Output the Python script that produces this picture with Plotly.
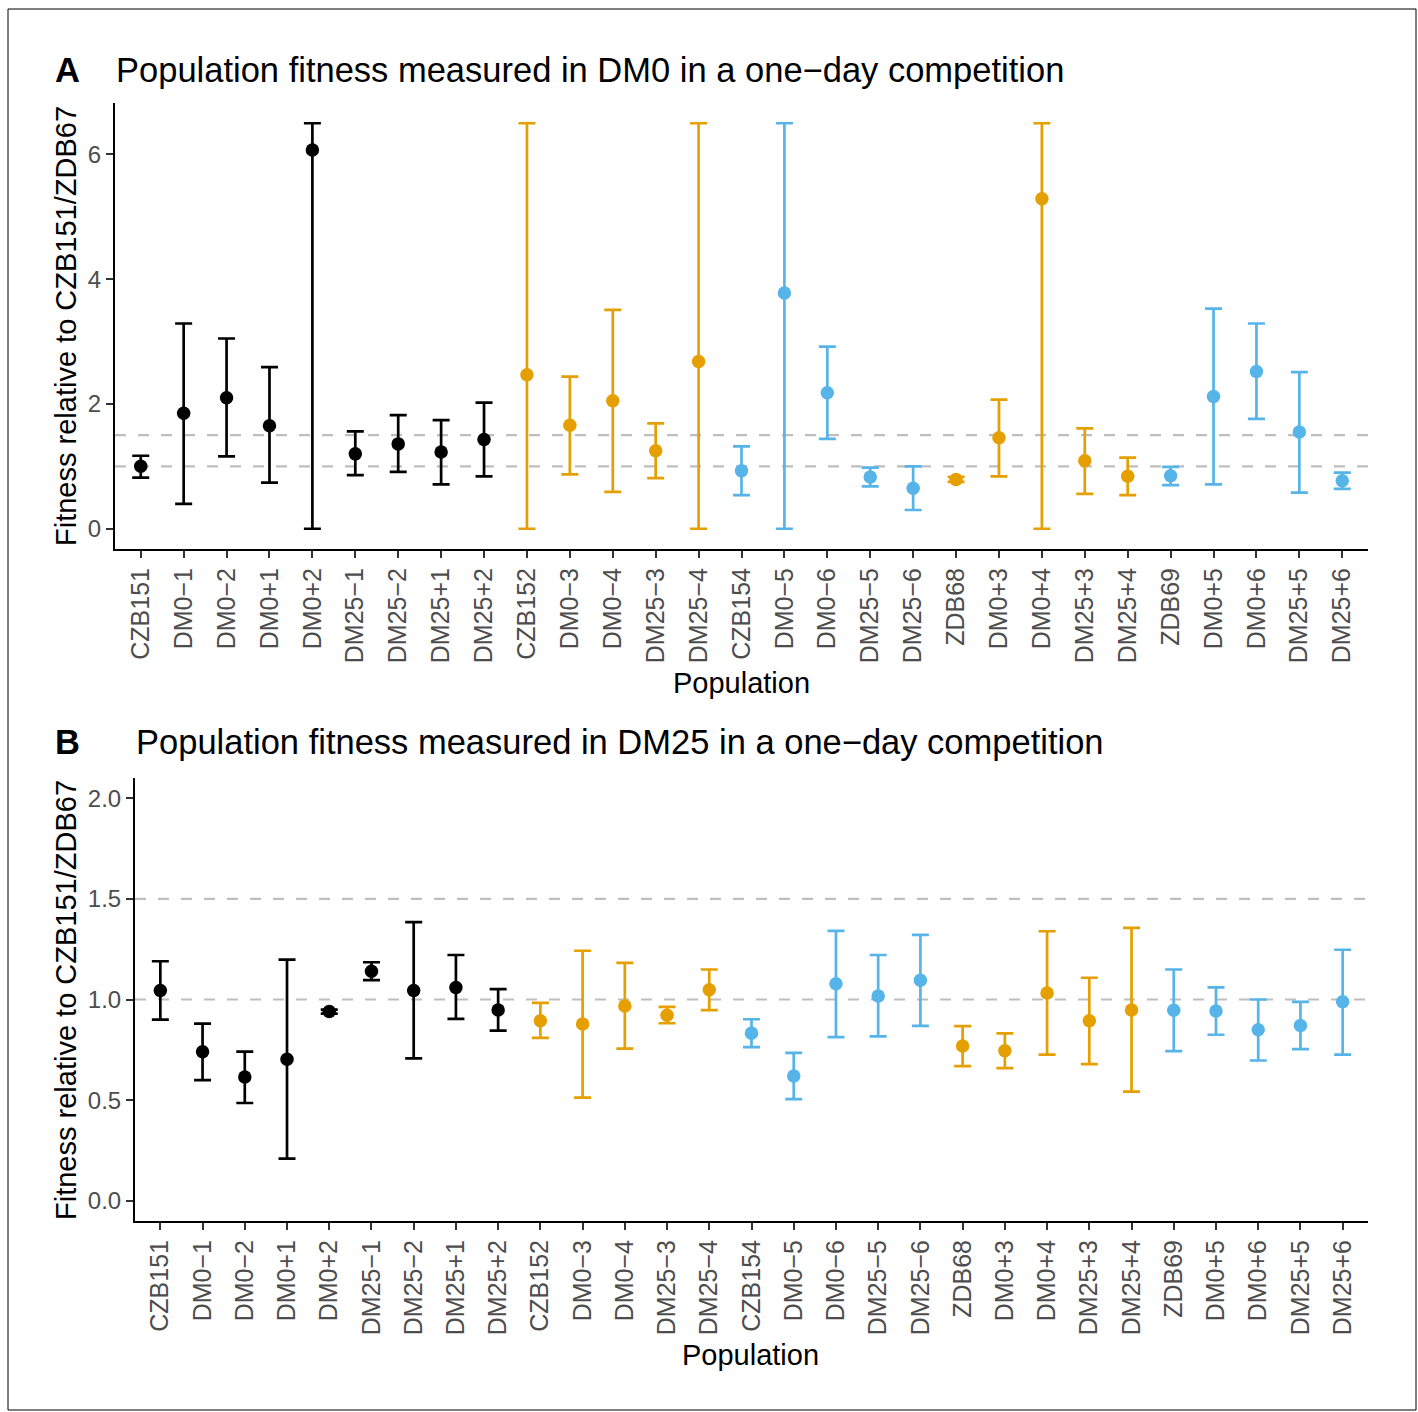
import plotly.graph_objects as go

# Populations in plotting order and the ancestor each one descends from
populations = [
    "CZB151", "DM0−1", "DM0−2", "DM0+1", "DM0+2", "DM25−1", "DM25−2", "DM25+1", "DM25+2",
    "CZB152", "DM0−3", "DM0−4", "DM25−3", "DM25−4",
    "CZB154", "DM0−5", "DM0−6", "DM25−5", "DM25−6",
    "ZDB68", "DM0+3", "DM0+4", "DM25+3", "DM25+4",
    "ZDB69", "DM0+5", "DM0+6", "DM25+5", "DM25+6",
]
ancestor = (["CZB151"] * 9 + ["CZB152"] * 5 + ["CZB154"] * 5
            + ["ZDB68"] * 5 + ["ZDB69"] * 5)

# Fitness measured in DM0 (estimate, lower and upper bound)
dm0_fit = [1.00, 1.85, 2.10, 1.65, 6.07, 1.20, 1.36, 1.23, 1.43,
           2.47, 1.66, 2.05, 1.25, 2.68,
           0.93, 3.78, 2.18, 0.83, 0.65,
           0.79, 1.46, 5.29, 1.09, 0.84,
           0.85, 2.12, 2.52, 1.55, 0.77]
dm0_lo = [0.82, 0.40, 1.16, 0.74, 0.00, 0.86, 0.91, 0.71, 0.84,
          0.00, 0.87, 0.59, 0.81, 0.00,
          0.54, 0.00, 1.44, 0.68, 0.30,
          0.75, 0.84, 0.00, 0.56, 0.54,
          0.70, 0.71, 1.76, 0.58, 0.64]
dm0_hi = [1.17, 3.29, 3.05, 2.59, 6.50, 1.56, 1.82, 1.74, 2.02,
          6.50, 2.44, 3.51, 1.69, 6.50,
          1.32, 6.50, 2.92, 0.98, 1.00,
          0.83, 2.07, 6.50, 1.61, 1.14,
          0.99, 3.53, 3.29, 2.51, 0.90]

# Fitness measured in DM25 (estimate, lower and upper bound)
dm25_fit = [1.045, 0.740, 0.615, 0.703, 0.940, 1.140, 1.045, 1.060, 0.948,
            0.894, 0.878, 0.968, 0.922, 1.048,
            0.833, 0.620, 1.078, 1.017, 1.096,
            0.769, 0.746, 1.032, 0.894, 0.948,
            0.947, 0.943, 0.850, 0.871, 0.989]
dm25_lo = [0.900, 0.600, 0.486, 0.210, 0.930, 1.096, 0.708, 0.904, 0.845,
           0.809, 0.513, 0.756, 0.882, 0.947,
           0.763, 0.505, 0.813, 0.817, 0.869,
           0.669, 0.659, 0.726, 0.679, 0.542,
           0.744, 0.825, 0.697, 0.754, 0.726]
dm25_hi = [1.190, 0.880, 0.741, 1.198, 0.950, 1.185, 1.384, 1.221, 1.052,
           0.983, 1.242, 1.182, 0.963, 1.149,
           0.902, 0.735, 1.341, 1.221, 1.321,
           0.868, 0.832, 1.339, 1.108, 1.356,
           1.149, 1.060, 1.000, 0.988, 1.247]

ref_lines = [1.0, 1.5]

colour_of = {"CZB151": "#000000", "CZB152": "#E69F00", "ZDB68": "#E69F00",
             "CZB154": "#56B4E9", "ZDB69": "#56B4E9"}
colour_groups = ["#000000", "#E69F00", "#56B4E9"]

W, H = 1418, 1412
FONT = "Liberation Sans, Arial, Helvetica, sans-serif"
TICK_COL = "#4D4D4D"


def px_x(p):
    return p / W


def px_y(p):
    return 1 - p / H


fig = go.Figure()


def add_panel(fit, lo, hi, xa, ya):
    for col in colour_groups:
        idx = [i for i, a in enumerate(ancestor) if colour_of[a] == col]
        fig.add_trace(go.Scatter(
            x=[populations[i] for i in idx],
            y=[fit[i] for i in idx],
            mode="markers",
            marker=dict(color=col, size=13.5, line=dict(width=0)),
            error_y=dict(type="data", symmetric=False,
                         array=[hi[i] - fit[i] for i in idx],
                         arrayminus=[fit[i] - lo[i] for i in idx],
                         color=col, thickness=2.7, width=8.5),
            xaxis=xa, yaxis=ya, showlegend=False, cliponaxis=False,
        ))


add_panel(dm0_fit, dm0_lo, dm0_hi, "x", "y")
add_panel(dm25_fit, dm25_lo, dm25_hi, "x2", "y2")

xaxis_common = dict(
    type="category", categoryorder="array", categoryarray=populations,
    range=[-0.6, 28.6], showline=True, linecolor="black", linewidth=2,
    ticks="outside", ticklen=7, tickwidth=2, tickcolor="#333333",
    tickangle=-90, tickfont=dict(family=FONT, size=25, color=TICK_COL),
    showgrid=False, zeroline=False, fixedrange=True,
)
yaxis_common = dict(
    showline=True, linecolor="black", linewidth=2,
    ticks="outside", ticklen=7, tickwidth=2, tickcolor="#333333",
    tickfont=dict(family=FONT, size=24, color=TICK_COL),
    showgrid=False, zeroline=False, fixedrange=True,
)

fig.update_layout(
    width=W, height=H,
    margin=dict(l=0, r=0, t=0, b=0),
    paper_bgcolor="white", plot_bgcolor="white",
    font=dict(family=FONT, color="black"),
    xaxis=dict(xaxis_common, domain=[px_x(115), px_x(1368)], anchor="y"),
    yaxis=dict(yaxis_common, domain=[px_y(549), px_y(103)], anchor="x",
               range=[-0.325, 6.825], tickvals=[0, 2, 4, 6]),
    xaxis2=dict(xaxis_common, domain=[px_x(135), px_x(1368)], anchor="y2"),
    yaxis2=dict(yaxis_common, domain=[px_y(1221), px_y(778)], anchor="x2",
                range=[-0.1, 2.1], tickvals=[0, 0.5, 1.0, 1.5, 2.0],
                tickformat=".1f"),
)

# Dashed reference lines at fitness 1.0 and 1.5
for xr, yr in (("x domain", "y"), ("x2 domain", "y2")):
    for v in ref_lines:
        fig.add_shape(type="line", xref=xr, yref=yr, x0=0, x1=1, y0=v, y1=v,
                      line=dict(color="#BEBEBE", width=2.2, dash="11px,12px"),
                      layer="below")

# Outer frame
fig.add_shape(type="rect", xref="paper", yref="paper",
              x0=px_x(8), x1=px_x(1416), y0=px_y(1410), y1=px_y(9),
              line=dict(color="black", width=1), fillcolor="rgba(0,0,0,0)")

annots = [
    dict(text="<b>A</b>", x=px_x(53), y=px_y(70), size=34.5, xanchor="left"),
    dict(text="Population fitness measured in DM0 in a one−day competition",
         x=px_x(114), y=px_y(70), size=34.5, xanchor="left"),
    dict(text="<b>B</b>", x=px_x(53), y=px_y(742), size=34.5, xanchor="left"),
    dict(text="Population fitness measured in DM25 in a one−day competition",
         x=px_x(134), y=px_y(742), size=34.5, xanchor="left"),
    dict(text="Population", x=px_x(741), y=px_y(683), size=29, xanchor="center"),
    dict(text="Population", x=px_x(751), y=px_y(1355), size=29, xanchor="center"),
]
for a in annots:
    fig.add_annotation(text=a["text"], x=a["x"], y=a["y"], xref="paper", yref="paper",
                       xanchor=a["xanchor"], yanchor="middle", showarrow=False,
                       font=dict(family=FONT, size=a["size"], color="black"))

for yc in (326, 1000):
    fig.add_annotation(text="Fitness relative to CZB151/ZDB67", x=px_x(66), y=px_y(yc),
                       xref="paper", yref="paper", xanchor="center", yanchor="middle",
                       textangle=-90, showarrow=False,
                       font=dict(family=FONT, size=29, color="black"))

fig.write_html("out.html")
